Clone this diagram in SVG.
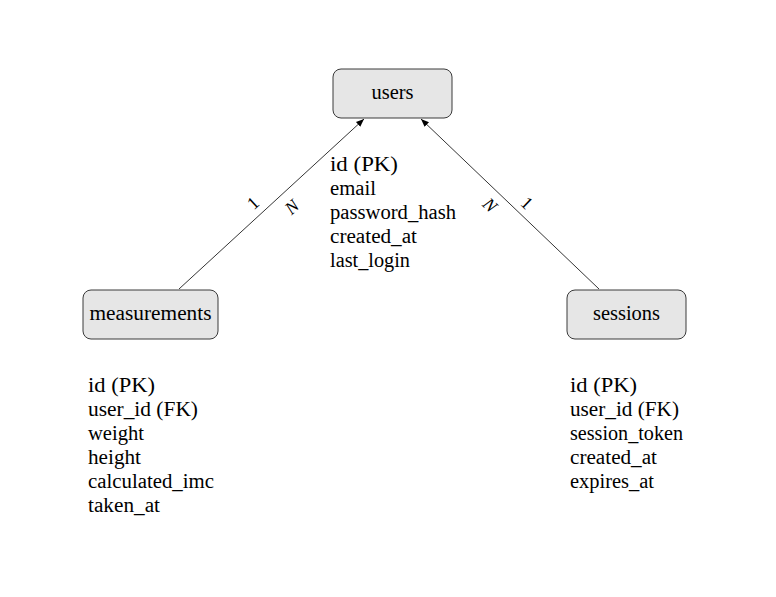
<svg xmlns="http://www.w3.org/2000/svg" width="776" height="597" viewBox="0 0 776 597">
<style>
.box{fill:#e6e6e6;stroke:#3a3a3a;stroke-width:1}
.t{font-family:'Liberation Serif','Times New Roman',Times,serif;font-size:20px;fill:#000}
.c{text-anchor:middle}
.lbl{font-family:'Liberation Serif','Times New Roman',Times,serif;font-size:18px;fill:#000;text-anchor:middle;dominant-baseline:central}
.edge{stroke:#000;stroke-width:0.8;fill:none}
</style>
<defs>
<marker id="arr" viewBox="0 0 10 10" refX="10" refY="5" markerWidth="8" markerHeight="8" markerUnits="userSpaceOnUse" orient="auto">
<path d="M0,1 L10,5 L0,9 Z" fill="#000"/>
</marker>
</defs>
<rect width="776" height="597" fill="#fff"/>
<g id="connectors">
<line class="edge" x1="179" y1="289" x2="364" y2="119" marker-end="url(#arr)"/>
<line class="edge" x1="599" y1="289" x2="421" y2="119" marker-end="url(#arr)"/>
<text class="lbl" transform="translate(253,203) rotate(-42.4)">1</text>
<text class="lbl" font-style="italic" transform="translate(292,207) rotate(-42.4)">N</text>
<text class="lbl" font-style="italic" transform="translate(490,205) rotate(43.5)">N</text>
<text class="lbl" transform="translate(527,203) rotate(43.5)">1</text>
</g>
<g id="users">
<rect class="box" x="333" y="69" width="119" height="49" rx="8"/>
<text class="t c" x="392.5" y="99" textLength="42" lengthAdjust="spacingAndGlyphs">users</text>
<text class="t" x="330" y="171" textLength="68" lengthAdjust="spacingAndGlyphs">id (PK)</text>
<text class="t" x="330" y="195" textLength="46" lengthAdjust="spacingAndGlyphs">email</text>
<text class="t" x="330" y="219" textLength="126" lengthAdjust="spacingAndGlyphs">password_hash</text>
<text class="t" x="330" y="243" textLength="87" lengthAdjust="spacingAndGlyphs">created_at</text>
<text class="t" x="330" y="267" textLength="80" lengthAdjust="spacingAndGlyphs">last_login</text>
</g>
<g id="measurements">
<rect class="box" x="83" y="290" width="135" height="49" rx="8"/>
<text class="t c" x="150.5" y="320" textLength="122" lengthAdjust="spacingAndGlyphs">measurements</text>
<text class="t" x="88" y="392" textLength="67" lengthAdjust="spacingAndGlyphs">id (PK)</text>
<text class="t" x="88" y="416" textLength="110" lengthAdjust="spacingAndGlyphs">user_id (FK)</text>
<text class="t" x="88" y="440" textLength="56" lengthAdjust="spacingAndGlyphs">weight</text>
<text class="t" x="88" y="464" textLength="53" lengthAdjust="spacingAndGlyphs">height</text>
<text class="t" x="88" y="488" textLength="126" lengthAdjust="spacingAndGlyphs">calculated_imc</text>
<text class="t" x="88" y="512" textLength="72" lengthAdjust="spacingAndGlyphs">taken_at</text>
</g>
<g id="sessions">
<rect class="box" x="567" y="290" width="119" height="49" rx="8"/>
<text class="t c" x="626.5" y="320" textLength="67" lengthAdjust="spacingAndGlyphs">sessions</text>
<text class="t" x="570" y="392" textLength="67" lengthAdjust="spacingAndGlyphs">id (PK)</text>
<text class="t" x="570" y="416" textLength="109" lengthAdjust="spacingAndGlyphs">user_id (FK)</text>
<text class="t" x="570" y="440" textLength="113" lengthAdjust="spacingAndGlyphs">session_token</text>
<text class="t" x="570" y="464" textLength="87" lengthAdjust="spacingAndGlyphs">created_at</text>
<text class="t" x="570" y="488" textLength="84" lengthAdjust="spacingAndGlyphs">expires_at</text>
</g>
</svg>
